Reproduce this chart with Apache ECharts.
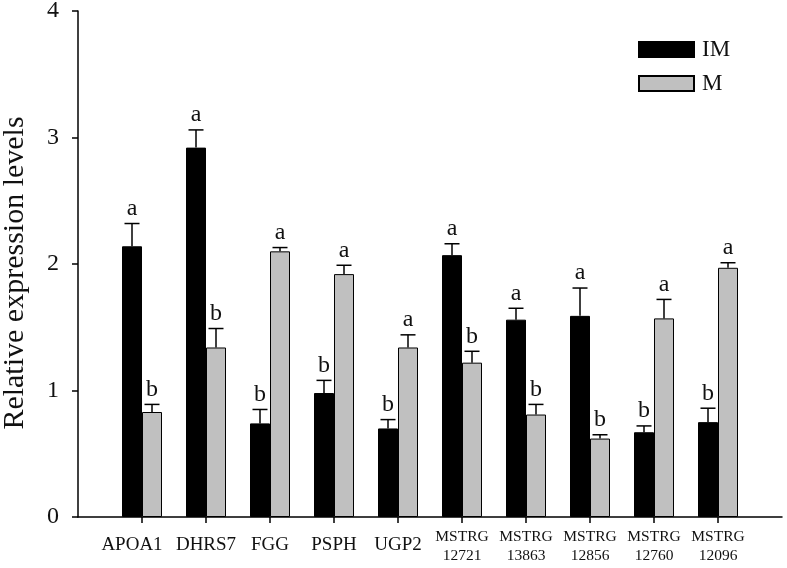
<!DOCTYPE html>
<html>
<head>
<meta charset="utf-8">
<script src="https://cdn.jsdelivr.net/npm/echarts@6/dist/echarts.min.js"></script>
<style>
  html, body { margin: 0; padding: 0; background: #fff; }
  #chart { width: 787px; height: 568px; }
</style>
</head>
<body>
<div id="chart"></div>
<script>
const categories = ['APOA1', 'DHRS7', 'FGG', 'PSPH', 'UGP2', 'MSTRG\n12721', 'MSTRG\n13863', 'MSTRG\n12856', 'MSTRG\n12760', 'MSTRG\n12096']
const imValues = [2.14, 2.92, 0.74, 0.98, 0.70, 2.07, 1.56, 1.59, 0.67, 0.75]
const imErrors = [0.18, 0.14, 0.11, 0.10, 0.07, 0.09, 0.09, 0.22, 0.05, 0.11]
const imLetters = ['a', 'a', 'b', 'b', 'b', 'a', 'a', 'a', 'b', 'b']
const mValues = [0.83, 1.34, 2.10, 1.92, 1.34, 1.22, 0.81, 0.62, 1.57, 1.97]
const mErrors = [0.06, 0.15, 0.03, 0.07, 0.10, 0.09, 0.08, 0.03, 0.15, 0.04]
const mLetters = ['b', 'b', 'a', 'a', 'a', 'b', 'b', 'b', 'a', 'a']
const yTicks = [0, 1, 2, 3, 4]

const serif = 'Liberation Serif'
const BAR_W = 20

// pad an empty slot at each end so the axis line runs past the first/last group
const axisCats = [''].concat(categories, [''])
const pad = arr => ['-'].concat(arr, ['-'])

function errorSeries(values, errors, letters, shift) {
  return {
    type: 'custom',
    clip: false,
    z: 5,
    data: values.map((v, i) => [i + 1, v, errors[i]]),
    renderItem: function (params, api) {
      const idx = api.value(0)
      const v = api.value(1)
      const e = api.value(2)
      const base = api.coord([idx, v])
      const top = api.coord([idx, v + e])
      const cx = base[0] + shift
      return {
        type: 'group',
        children: [
          { type: 'line', shape: { x1: cx, y1: base[1], x2: cx, y2: top[1] }, style: { stroke: '#000', lineWidth: 1.5 } },
          { type: 'line', shape: { x1: cx - 7.5, y1: top[1], x2: cx + 7.5, y2: top[1] }, style: { stroke: '#000', lineWidth: 1.5 } },
          { type: 'text', style: { text: letters[params.dataIndex], x: cx, y: top[1] - 3, align: 'center', verticalAlign: 'bottom', fontSize: 24, fontFamily: serif, fill: '#111' } }
        ]
      }
    }
  }
}

const myChart = echarts.init(document.getElementById('chart'))
myChart.setOption({
  animation: false,
  grid: { left: 78, right: 5, top: 11, bottom: 51, containLabel: false, outerBoundsMode: 'none' },
  legend: {
    data: ['IM', 'M'],
    orient: 'vertical',
    left: 633,
    top: 33,
    icon: 'rect',
    itemWidth: 55,
    itemHeight: 15,
    itemGap: 11,
    textStyle: { fontFamily: serif, fontSize: 23, color: '#111', padding: [0, 0, 0, 3] }
  },
  xAxis: {
    type: 'category',
    data: axisCats,
    boundaryGap: false,
    axisLine: { lineStyle: { color: '#000', width: 1.5 } },
    axisTick: {
      length: 6,
      interval: (i) => i > 0 && i < axisCats.length - 1,
      lineStyle: { color: '#000', width: 1.5 }
    },
    axisLabel: {
      interval: 0,
      margin: 10,
      color: '#111',
      formatter: function (val, i) {
        if (val.indexOf('\n') >= 0) {
          return val.split('\n').map(s => '{s|' + s + '}').join('\n')
        }
        // the first label sits a little left of its tick in the original
        return (i === 1 ? '{f|' : '{b|') + val + '}'
      },
      rich: {
        b: { fontFamily: serif, fontSize: 19, lineHeight: 36, color: '#111' },
        f: { fontFamily: serif, fontSize: 19, lineHeight: 36, color: '#111', padding: [0, 20, 0, 0] },
        s: { fontFamily: serif, fontSize: 15.5, lineHeight: 19, color: '#111' }
      }
    },
    splitLine: { show: false }
  },
  yAxis: {
    type: 'value',
    min: yTicks[0],
    max: yTicks[yTicks.length - 1],
    interval: 1,
    name: 'Relative expression levels',
    nameLocation: 'middle',
    nameGap: 48,
    nameTextStyle: { fontFamily: serif, fontSize: 30, color: '#111', padding: [0, 18, 0, 0] },
    axisLine: { show: true, lineStyle: { color: '#000', width: 1.5 } },
    axisTick: { show: true, length: 6, lineStyle: { color: '#000', width: 1.5 } },
    axisLabel: { fontFamily: serif, fontSize: 24, color: '#111', margin: 19 },
    splitLine: { show: false }
  },
  series: [
    {
      name: 'IM',
      type: 'bar',
      barWidth: BAR_W,
      barGap: 0,
      itemStyle: { color: '#000', borderColor: '#000', borderWidth: 1 },
      data: pad(imValues)
    },
    {
      name: 'M',
      type: 'bar',
      barWidth: BAR_W,
      barGap: 0,
      itemStyle: { color: '#c0c0c0', borderColor: '#000', borderWidth: 1 },
      data: pad(mValues)
    },
    errorSeries(imValues, imErrors, imLetters, -BAR_W / 2),
    errorSeries(mValues, mErrors, mLetters, BAR_W / 2)
  ]
})
</script>
</body>
</html>
